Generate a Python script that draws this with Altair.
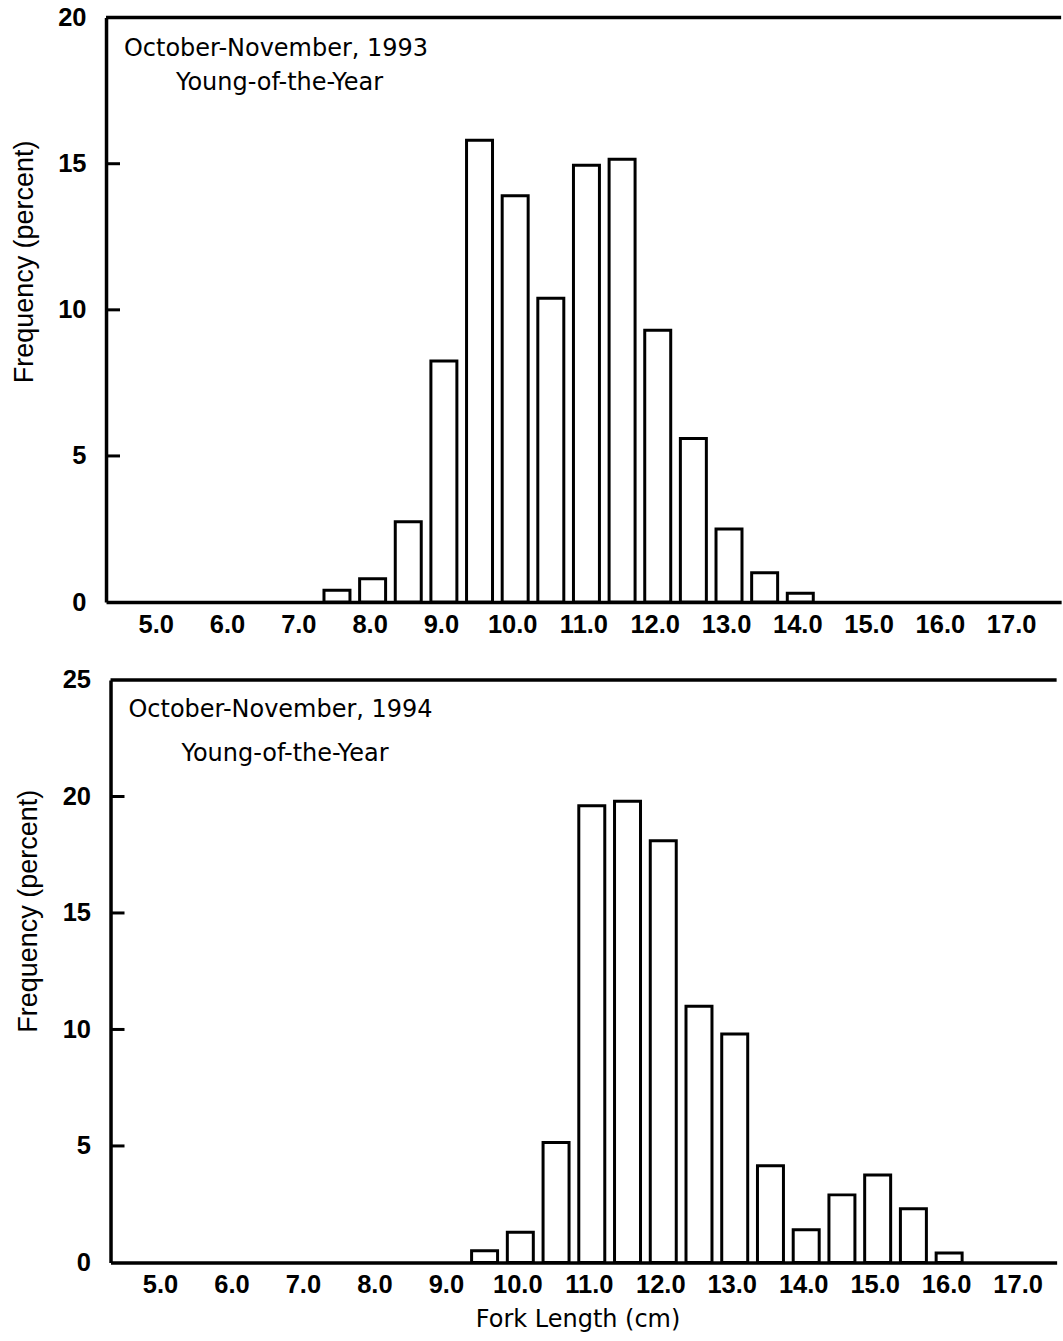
import altair as alt
import pandas as pd

# ---------------- data ----------------
length_1993 = [7.5, 8.0, 8.5, 9.0, 9.5, 10.0, 10.5, 11.0, 11.5, 12.0, 12.5, 13.0, 13.5, 14.0]
freq_1993 = [0.4, 0.8, 2.75, 8.25, 15.8, 13.9, 10.4, 14.95, 15.15, 9.3, 5.6, 2.5, 1.0, 0.3]

length_1994 = [9.5, 10.0, 10.5, 11.0, 11.5, 12.0, 12.5, 13.0, 13.5, 14.0, 14.5, 15.0, 15.5, 16.0]
freq_1994 = [0.5, 1.3, 5.15, 19.6, 19.8, 18.1, 11.0, 9.8, 4.15, 1.4, 2.9, 3.75, 2.3, 0.4]

x_tick_values = [5.0, 6.0, 7.0, 8.0, 9.0, 10.0, 11.0, 12.0, 13.0, 14.0, 15.0, 16.0, 17.0]
y_ticks_1993 = [0, 5, 10, 15, 20]
y_ticks_1994 = [0, 5, 10, 15, 20, 25]
inner_ticks_1993 = [5, 10, 15]
inner_ticks_1994 = [5, 10, 15, 20]

period_1993 = ["October-November, 1993"]
period_1994 = ["October-November, 1994"]
group_label = ["Young-of-the-Year"]
x_title = "Fork Length (cm)"
y_title = "Frequency (percent)"

LABEL_FONT = "Liberation Sans, Arial, Helvetica, sans-serif"
TEXT_FONT = "DejaVu Sans, sans-serif"


def panel(lengths, freqs, ymax, yticks, inner, period, width, height,
          xdomain, show_xtitle, title_y, text1_pos, text2_pos):
    df = pd.DataFrame({"length": lengths, "freq": freqs})
    xs = alt.Scale(domain=xdomain, nice=False, zero=False)
    ys = alt.Scale(domain=[0, ymax], nice=False)

    xaxis_kwargs = dict(
        values=x_tick_values, format=".1f", ticks=False, tickSize=0,
        tickOffset=-3,
        grid=False, domainColor="black", domainWidth=3.5,
        labelFont=LABEL_FONT, labelFontSize=25.5, labelFontWeight="bold",
        labelColor="black",
        labelPadding=10, labelFlush=False, labelOverlap=False,
    )
    if show_xtitle:
        xaxis_kwargs.update(
            title=x_title, titleFont=TEXT_FONT, titleFontSize=24,
            titleFontWeight="normal", titleColor="black",
            titleX=width / 2 - 6, titleY=64, titleAlign="center",
            titleBaseline="alphabetic",
        )
    else:
        xaxis_kwargs.update(title=None)

    yaxis = alt.Axis(
        values=yticks, ticks=False, tickSize=0, grid=False,
        domainColor="black", domainWidth=3.5,
        labelFont=LABEL_FONT, labelFontSize=25.5, labelFontWeight="bold",
        labelColor="black",
        labelPadding=20, labelFlush=False, labelOverlap=False,
        title=y_title, titleFont=LABEL_FONT, titleFontSize=27,
        titleFontWeight="normal", titleColor="black",
        titleAngle=270, titleAlign="center", titleBaseline="middle",
        titleX=-82, titleY=title_y,
    )

    bars = alt.Chart(df).mark_bar(
        size=26, fill="white", stroke="black", strokeWidth=3
    ).encode(
        x=alt.X("length:Q", scale=xs, axis=alt.Axis(**xaxis_kwargs)),
        y=alt.Y("freq:Q", scale=ys, axis=yaxis),
    )

    ticks = alt.Chart(pd.DataFrame({"freq": inner})).mark_rule(
        stroke="black", strokeWidth=3
    ).encode(
        y=alt.Y("freq:Q", scale=ys, axis=yaxis),
        x=alt.value(0), x2=alt.value(14),
    )

    frame_top = alt.Chart(pd.DataFrame({"k": [0]})).mark_rule(
        stroke="black", strokeWidth=3.5
    ).encode(x=alt.value(0), x2=alt.value(width), y=alt.value(0))

    t1 = alt.Chart(pd.DataFrame({"t": period})).mark_text(
        font=TEXT_FONT, fontSize=24, align="left", baseline="alphabetic",
        color="black"
    ).encode(text="t:N", x=alt.value(text1_pos[0]), y=alt.value(text1_pos[1]))

    t2 = alt.Chart(pd.DataFrame({"t": group_label})).mark_text(
        font=TEXT_FONT, fontSize=24, align="left", baseline="alphabetic",
        color="black"
    ).encode(text="t:N", x=alt.value(text2_pos[0]), y=alt.value(text2_pos[1]))

    return alt.layer(bars, ticks, frame_top, t1, t2).properties(
        width=width, height=height
    )


top = panel(length_1993, freq_1993, 20, y_ticks_1993, inner_ticks_1993,
            period_1993, 956, 585, [4.33, 4.33 + 956 / 72.1], False, 244,
            (18, 38.5), (70, 72))
bottom = panel(length_1994, freq_1994, 25, y_ticks_1994, inner_ticks_1994,
               period_1994, 947, 583, [4.336, 4.336 + 947 / 72.3], True, 231,
               (18, 37), (71, 81.5))

chart = alt.vconcat(top, bottom, spacing=30, center=True).properties(
    padding={"left": 10, "top": 5, "right": 0, "bottom": 0},
    background="white",
).configure_view(stroke=None)

chart.save("out.html", embed_options={"renderer": "svg", "actions": False})
